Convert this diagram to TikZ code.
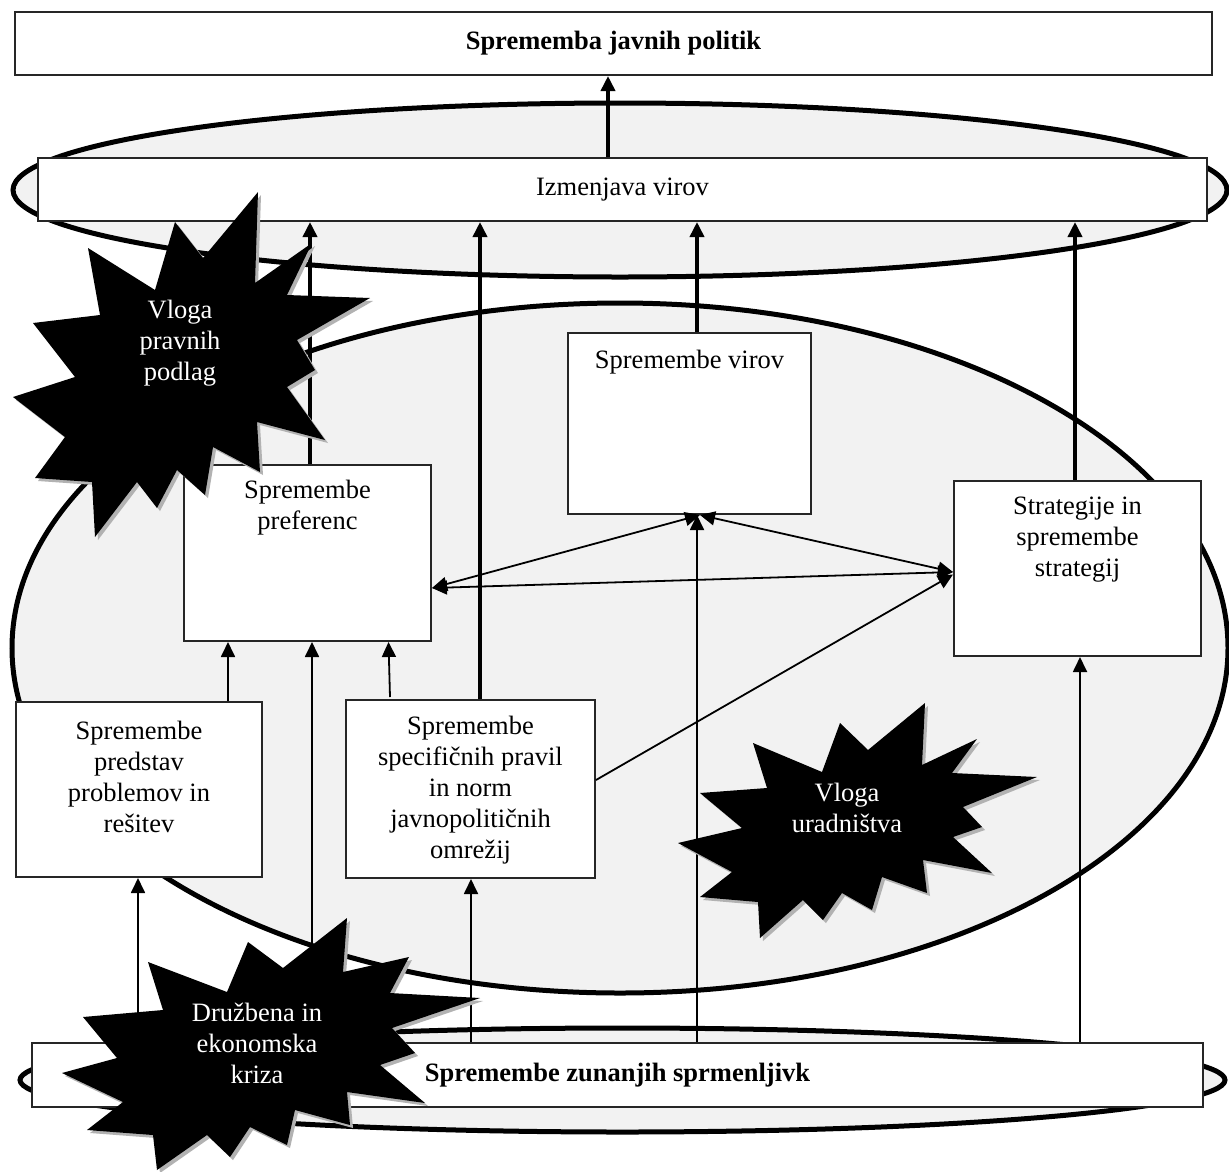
\documentclass[tikz,border=0pt]{standalone}
\usepackage{fontspec}
\setmainfont{Liberation Serif}
\usetikzlibrary{arrows.meta,shapes.geometric}
\definecolor{elfill}{HTML}{F2F2F2}
\begin{document}
\begin{tikzpicture}[x=1pt,y=-1pt,
 box/.style={draw=black!85, line width=2pt, fill=white, inner sep=0pt, rectangle},
 ell/.style={ellipse, draw=black, line width=5pt, fill=elfill, inner sep=0pt},
 tip/.style={-{Triangle[length=15pt,width=14pt]}},
 thinarr/.style={line width=1.8pt, tip},
 thickarr/.style={line width=3.6pt, tip},
 dblarr/.style={line width=1.8pt, {Triangle[length=15pt,width=14pt]}-{Triangle[length=15pt,width=14pt]}},
 txt/.style={align=center, font=\fontsize{26.5}{31}\selectfont, inner sep=0pt},
 startxt/.style={txt, text=white}]
\useasboundingbox (0,0) rectangle (1229,1171);
\fill[white] (0,0) rectangle (1229,1171);

% ellipses
\node[ell, minimum width=1214pt, minimum height=174pt] (upper) at (620,190) {};
\node[ell, minimum width=1216pt, minimum height=690pt] (outer) at (620,648) {};
\node[ell, minimum width=1205pt, minimum height=104pt] (lower) at (622.5,1080) {};

% boxes
\node[box, minimum width=1197pt, minimum height=63pt, txt] (top) at (613.5,43.5) {\textbf{Sprememba javnih politik}};
\node[box, minimum width=1169pt, minimum height=63pt, txt] (izm) at (622.5,189.5) {Izmenjava virov};
\node[box, minimum width=247pt, minimum height=176pt] (pref) at (307.5,553) {};
\node[box, minimum width=243pt, minimum height=181pt] (virov) at (689.5,423.5) {};
\node[box, minimum width=247pt, minimum height=175pt] (strat) at (1077.5,568.5) {};
\node[box, minimum width=246pt, minimum height=175pt] (pred) at (139,789.5) {};
\node[box, minimum width=249pt, minimum height=178pt] (spec) at (470.5,789) {};
\node[box, minimum width=1171pt, minimum height=64pt, txt] (zun) at (617.5,1075) {\textbf{Spremembe zunanjih sprmenljivk}};

% box texts
\node[txt] (preft) at (307.5,508) {Spremembe\\preferenc};
\node[txt] (virovt) at (689.5,362) {Spremembe virov};
\node[txt] (stratt) at (1077.5,540) {Strategije in\\spremembe\\strategij};
\node[txt] (predt) at (139,777) {Spremembe\\predstav\\problemov in\\rešitev};
\node[txt] (spect) at (470.5,790) {Spremembe\\specifičnih pravil\\in norm\\javnopolitičnih\\omrežij};

% thick arrows
\draw[thickarr] ([xshift=-14.5pt]izm.north) -- ([xshift=-5.5pt]top.south);
\draw[thickarr] ([xshift=2.5pt]pref.north) -- ([xshift=-312.5pt]izm.south);
\draw[thickarr] ([xshift=9.5pt]spec.north) -- ([xshift=-142.5pt]izm.south);
\draw[thickarr] ([xshift=7.5pt]virov.north) -- ([xshift=74.5pt]izm.south);
\draw[thickarr] ([xshift=-2.5pt]strat.north) -- ([xshift=452.5pt]izm.south);

% thin arrows
\draw[thinarr] ([xshift=89pt]pred.north) -- ([xshift=-79.5pt]pref.south);
\draw[thinarr] ([xshift=-305.5pt]zun.north) -- ([xshift=4.5pt]pref.south);
\draw[thinarr] ([xshift=-80.5pt,yshift=2pt]spec.north) -- ([xshift=81pt]pref.south);
\draw[thinarr] ([xshift=-479.5pt]zun.north) -- ([xshift=-1pt]pred.south);
\draw[thinarr] ([xshift=-146.5pt]zun.north) -- ([xshift=0.5pt]spec.south);
\draw[thinarr] ([xshift=79.5pt]zun.north) -- ([xshift=7.5pt]virov.south);
\draw[thinarr] ([xshift=462.5pt]zun.north) -- ([xshift=2.5pt]strat.south);
\draw[thinarr] ([yshift=9pt]spec.east) -- ([yshift=-6pt]strat.west);

% double arrows
\draw[dblarr] ([yshift=-35pt]pref.east) -- ([xshift=10.5pt]virov.south);
\draw[dblarr] ([xshift=10.5pt]virov.south) -- ([yshift=-3.5pt]strat.west);
\draw[dblarr] ([yshift=-35pt]pref.east) -- ([yshift=-3.5pt]strat.west);

% starbursts
\foreach \d/\c in {3/gray!60, 0/black} {
\fill[\c, shift={(\d,\d)}] (258,192) -- (255,283) -- (312,243) -- (287,295) -- (370,298) -- (297,340) -- (315,370) -- (287,387) -- (325,440) -- (257,422) -- (260,472) -- (213,447) -- (205,495) -- (177,470) -- (157,508) -- (137,482) -- (95,537) -- (92,482) -- (35,478) -- (65,437) -- (13,397) -- (75,377) -- (33,323) -- (100,315) -- (88,248) -- (155,290) -- (175,222) -- (203,258) -- cycle;
\fill[\c, shift={(\d,\d)}] (925,703) -- (922,765) -- (977,739) -- (952,773) -- (1037,777) -- (963,807) -- (982,827) -- (953,837) -- (992,873) -- (923,860) -- (927,893) -- (882,877) -- (872,910) -- (842,893) -- (823,920) -- (803,900) -- (760,938) -- (758,902) -- (700,897) -- (732,872) -- (678,843) -- (742,828) -- (700,793) -- (767,788) -- (753,743) -- (822,772) -- (840,723) -- (868,750) -- cycle;
\fill[\c, shift={(\d,\d)}] (347,918) -- (343,972) -- (409,957) -- (390,993) -- (480,998) -- (392,1028) -- (415,1053) -- (380,1065) -- (425,1103) -- (347,1092) -- (350,1125) -- (295,1110) -- (287,1145) -- (250,1127) -- (230,1157) -- (207,1135) -- (157,1170) -- (153,1135) -- (87,1130) -- (123,1102) -- (62,1073) -- (117,1058) -- (83,1017) -- (163,1010) -- (148,962) -- (227,992) -- (248,942) -- (283,968) -- cycle;
}
\node[startxt] (pravnih) at (180,343) {Vloga\\pravnih\\podlag};
\node[startxt] (urad) at (847,808) {Vloga\\uradništva};
\node[startxt] (kriza) at (257,1043) {Družbena in\\ekonomska\\kriza};
\end{tikzpicture}
\end{document}
